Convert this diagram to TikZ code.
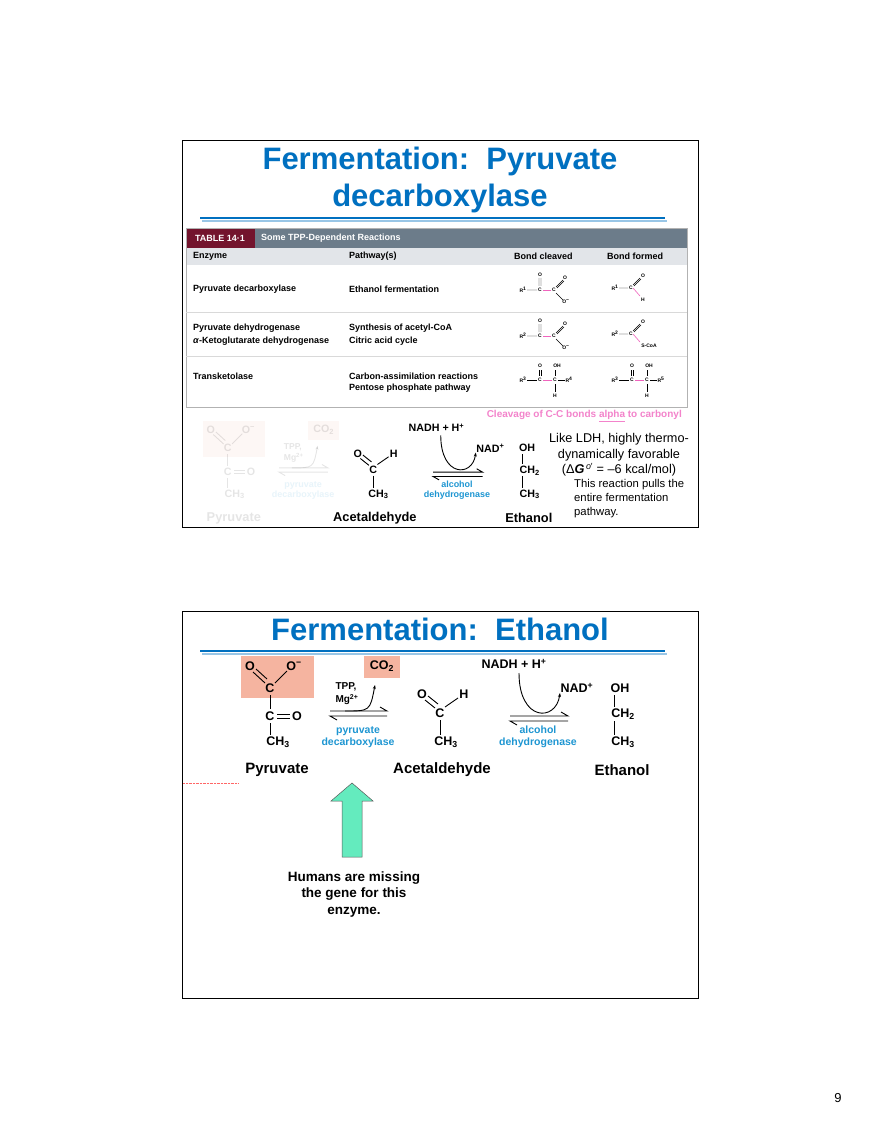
\documentclass[tikz,border=0pt]{standalone}
\usepackage{fontspec}
\setmainfont{Liberation Sans}
\usetikzlibrary{arrows.meta}
\definecolor{ttl}{RGB}{0,112,192}
\definecolor{enz}{RGB}{30,150,210}
\definecolor{salm}{RGB}{245,180,160}
\definecolor{maroon}{RGB}{115,20,45}
\definecolor{hbar}{RGB}{108,124,138}
\definecolor{hrow}{RGB}{226,229,233}
\definecolor{pinkt}{RGB}{240,100,190}
\definecolor{grn}{RGB}{100,235,190}
\newcommand\sps[1]{\textsuperscript{#1}}
\newcommand\sbs[1]{\textsubscript{#1}}
\tikzset{
 t/.style={inner sep=0pt,font=\bfseries\fontsize{12.5}{13}\selectfont},
 lb/.style={inner sep=0pt,font=\bfseries\fontsize{15}{16}\selectfont},
 ez/.style={inner sep=0pt,text=enz,font=\bfseries\fontsize{10.5}{12}\selectfont},
 tb/.style={inner sep=0pt,anchor=west,font=\bfseries\fontsize{9}{10}\selectfont},
 sm/.style={inner sep=0pt,font=\bfseries\fontsize{5}{6}\selectfont},
 bd/.style={line width=0.9pt},
 title/.style={inner sep=0pt,text=ttl,font=\bfseries\fontsize{31}{37}\selectfont,align=center},
}
\newcommand\myscheme[1]{%
 \begin{scope}[opacity=#1]
 \fill[salm] (241,656) rectangle (314,698);
 \fill[salm] (364,656) rectangle (400,678);
 \node[t] (po1) at (250,666) {O};
 \node[t] (po2) at (294,666) {O\sps{−}};
 \node[t] (pc1) at (270,688) {C};
 \node[t] (pc2) at (270,716) {C};
 \node[t] (po3) at (297,716) {O};
 \node[t] (pch) at (278,742) {CH\sbs{3}};
 \node[lb] (pyr) at (277,770) {Pyruvate};
 \draw[bd] (253,672)--(265,683) (256,669)--(267,679);
 \draw[bd] (275,683)--(287,671);
 \draw[bd] (270,695)--(270,709) (270,723)--(270,735);
 \draw[bd] (277,714)--(290,714) (277,718)--(290,718);
 \node[t] (co2) at (382,666) {CO\sbs{2}};
 \node[inner sep=0pt,font=\bfseries\fontsize{10}{13}\selectfont,align=left] (tpp) at (347,694) {TPP,\\Mg\sps{2+}};
 \draw[bd] (330,711)--(387,711)--(380,707);
 \draw[bd] (387,716)--(330,716)--(337,720);
 \draw[bd,-{Stealth[length=4pt]}] (345,711) .. controls (370,711) .. (375,685);
 \node[ez,align=center] (pdc) at (358,737) {pyruvate\\decarboxylase};
 \end{scope}}
\newcommand\myschemeb{%
 \node[t] (ao) at (422,694) {O};
 \node[t] (ah) at (464,694) {H};
 \node[t] (ac) at (440,713) {C};
 \node[t] (ach) at (446,742) {CH\sbs{3}};
 \node[lb] (acl) at (442,770) {Acetaldehyde};
 \draw[bd] (425,700)--(435,708) (428,696)--(438,704);
 \draw[bd] (445,707)--(458,698);
 \draw[bd] (440,720)--(440,735);
 \node[t] (nadh) at (514,664) {NADH + H\sps{+}};
 \node[t] (nad) at (577,688) {NAD\sps{+}};
 \draw[bd] (510,716)--(568,716)--(561,712);
 \draw[bd] (568,721)--(510,721)--(517,725);
 \draw[bd,-{Stealth[length=4pt]}] (519,673) .. controls (519,722) and (556,722) .. (560,693);
 \node[ez,align=center] (adh) at (538,737) {alcohol\\dehydrogenase};
 \node[t] (eoh) at (620,688) {OH};
 \node[t] (ech2) at (623,714) {CH\sbs{2}};
 \node[t] (ech3) at (623,742) {CH\sbs{3}};
 \node[lb] (etl) at (622,770) {Ethanol};
 \draw[bd] (614,695)--(614,707) (614,721)--(614,735);}
\begin{document}
\begin{tikzpicture}[x=1pt,y=-1pt]
\useasboundingbox (0,0) rectangle (880,1139);
\fill[white] (0,0) rectangle (880,1139);
% ---------- slide 1
\draw[line width=0.8pt] (182,140) rectangle (698,527);
\node[title] (t1) at (440,180) {Fermentation:\ \ Pyruvate\\decarboxylase};
\draw[line width=2.5pt,ttl!40] (202,221)--(667,221);
\draw[line width=2pt,ttl] (200,218)--(665,218);
% table
\fill[hbar] (186,228) rectangle (687,248);
\fill[maroon] (186,228) rectangle (255,248);
\node[inner sep=0pt,text=white,font=\bfseries\fontsize{9}{9}\selectfont] (tn) at (220,238) {TABLE 14·1};
\node[tb,text=white,font=\bfseries\fontsize{9}{9}\selectfont] (tt) at (261,238) {Some TPP-Dependent Reactions};
\fill[hrow] (186,248) rectangle (687,265);
\draw[gray!60] (186,228) rectangle (687,407);
\draw[gray!30] (186,312)--(687,312) (186,356)--(687,356);
\node[tb] (h1) at (193,256) {Enzyme};
\node[tb] (h2) at (349,256) {Pathway(s)};
\node[tb] (h3) at (514,256) {Bond cleaved};
\node[tb] (h4) at (607,256) {Bond formed};
\node[tb] (e1) at (193,289) {Pyruvate decarboxylase};
\node[tb] (p1) at (349,289) {Ethanol fermentation};
\node[tb] (e2) at (193,328) {Pyruvate dehydrogenase};
\node[tb] (e2b) at (193,341) {\textit{α}-Ketoglutarate dehydrogenase};
\node[tb] (p2) at (349,328) {Synthesis of acetyl-CoA};
\node[tb] (p2b) at (349,341) {Citric acid cycle};
\node[tb] (e3) at (193,376) {Transketolase};
\node[tb] (p3) at (349,376) {Carbon-assimilation reactions};
\node[tb] (p3b) at (349,388) {Pentose phosphate pathway};
% bond structures rows 1,2
\foreach \y/\r in {290/1,336/2}{
 \node[sm] at (523,\y) {R\sps{\r}};
 \node[sm] at (540,\y) {C};
 \node[sm] at (554,\y) {C};
 \node[sm] at (540,\y-15) {O};
 \node[sm] at (565,\y-12) {O};
 \node[sm] at (566,\y+12) {O\sps{−}};
 \draw[line width=0.4pt] (527,\y)--(537,\y) (539,\y-4)--(539,\y-12) (541,\y-4)--(541,\y-12) (556,\y-3)--(563,\y-10) (557,\y-2)--(564,\y-9) (556,\y+3)--(563,\y+10);
 \draw[line width=0.6pt,pinkt] (543,\y)--(551,\y);
 \node[sm] at (615,\y-2) {R\sps{\r}};
 \node[sm] at (631,\y-2) {C};
 \node[sm] at (643,\y-14) {O};
 \draw[line width=0.4pt] (619,\y-2)--(628,\y-2) (633,\y-5)--(640,\y-12) (634,\y-4)--(641,\y-11);
}
\draw[line width=0.6pt,pinkt] (633,288)--(640,296);
\node[sm] at (643,300) {H};
\draw[line width=0.6pt,pinkt] (633,334)--(640,342);
\node[sm] at (649,346) {S-CoA};
% row 3
\foreach \dx/\r in {0/4,92/5}{
 \node[sm] at (523+\dx,380) {R\sps{3}};
 \node[sm] at (540+\dx,380) {C};
 \node[sm] at (555+\dx,380) {C};
 \node[sm] at (569+\dx,380) {R\sps{\r}};
 \node[sm] at (540+\dx,366) {O};
 \node[sm] at (557+\dx,366) {OH};
 \node[sm] at (555+\dx,396) {H};
 \draw[line width=0.4pt] (527+\dx,380)--(537+\dx,380) (558+\dx,380)--(565+\dx,380) (539+\dx,370)--(539+\dx,376) (541+\dx,370)--(541+\dx,376) (555+\dx,370)--(555+\dx,376) (555+\dx,384)--(555+\dx,392);
 \draw[line width=0.6pt,pinkt] (543+\dx,380)--(552+\dx,380);
}
\node[inner sep=0pt,anchor=east,text=pinkt!80,font=\bfseries\fontsize{10}{10}\selectfont] (cl) at (682,416) {Cleavage of C-C bonds \underline{alpha} to carbonyl};
\begin{scope}[shift={(-3,-140)},scale=0.855,transform shape]
\myscheme{0.1}
\myschemeb
\end{scope}
\node[inner sep=0pt,align=center,font=\fontsize{12.7}{15.5}\selectfont] (ldh) at (619,455) {Like LDH, highly thermo-\\dynamically favorable\\(Δ\textbf{\textit{G}}\sps{\,\textit{o}′} = –6 kcal/mol)};
\node[inner sep=0pt,anchor=north west,align=left,font=\fontsize{11.3}{14}\selectfont] (pull) at (574,479) {This reaction pulls the\\entire fermentation\\pathway.};
% ---------- slide 2
\draw[line width=0.8pt] (182,611) rectangle (698,998);
\node[title] (t2) at (440,629) {Fermentation:\ \ Ethanol};
\draw[line width=2.5pt,ttl!40] (202,654)--(667,654);
\draw[line width=2pt,ttl] (200,651)--(665,651);
\myscheme{1}
\myschemeb
\draw[red!60,densely dotted] (183,783)--(238,783);
\fill[grn] (352,783)--(373,801)--(362,801)--(362,857)--(342,857)--(342,801)--(331,801)--cycle;
\draw[gray!70!black,line width=0.5pt] (352,783)--(373,801)--(362,801)--(362,857)--(342,857)--(342,801)--(331,801)--cycle;
\node[inner sep=0pt,align=center,font=\bfseries\fontsize{13.5}{16.5}\selectfont] (hum) at (354,894) {Humans are missing\\the gene for this\\enzyme.};
\node[inner sep=0pt,font=\fontsize{13}{14}\selectfont\rmfamily] (pg) at (838,1098) {9};
\end{tikzpicture}
\end{document}
